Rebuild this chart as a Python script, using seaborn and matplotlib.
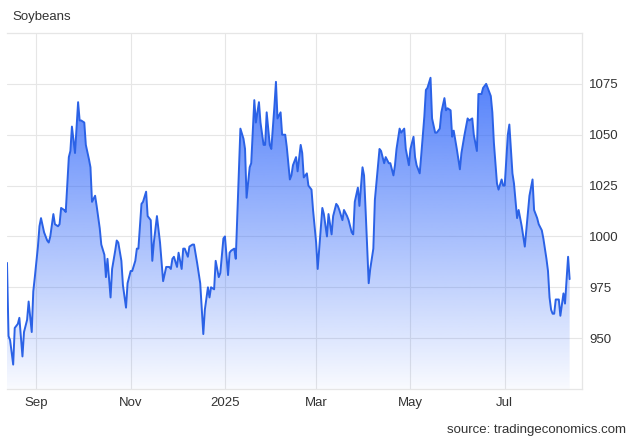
import numpy as np
import pandas as pd
import matplotlib
matplotlib.use("Agg")
import matplotlib.pyplot as plt
import seaborn as sns

# Soybeans futures, daily closes (USd/bu), month by month
aug24_days = [13, 14, 15, 17, 18, 20, 21, 23, 24, 26, 27, 29, 30, 31]
aug24_price = [987, 951, 949, 937, 955, 957, 960, 941, 953, 959, 968, 953, 973, 980]
sep24_days = [2, 3, 4, 6, 8, 9, 10, 12, 13, 15, 16, 17, 19, 20, 22, 23, 24, 26, 28, 29, 30]
sep24_price = [995, 1005, 1009, 1002, 998, 997, 1000, 1011, 1006, 1005, 1006, 1014, 1013, 1012,
               1039, 1042, 1054, 1041, 1066, 1057, 1057]
oct24_days = [2, 3, 5, 6, 7, 9, 10, 12, 13, 15, 16, 17, 19, 20, 22, 23, 24, 26, 27, 29, 30]
oct24_price = [1056, 1045, 1038, 1034, 1017, 1020, 1015, 1004, 996, 991, 980, 989, 970, 984,
               993, 998, 997, 988, 976, 965, 977]
nov24_days = [1, 2, 4, 5, 6, 8, 9, 11, 12, 14, 15, 16, 18, 20, 22, 24, 26, 27, 28, 29]
nov24_price = [983, 983, 988, 994, 994, 1016, 1017, 1022, 1010, 1008, 988, 997, 1010, 997,
               978, 985, 985, 984, 989, 990]
dec24_days = [1, 2, 4, 5, 6, 8, 9, 11, 12, 14, 15, 16, 18, 19, 21, 22, 23, 25, 26, 28, 29, 31]
dec24_price = [985, 992, 984, 994, 994, 990, 995, 996, 996, 987, 982, 977, 952, 964, 975,
               970, 975, 974, 988, 980, 982, 999]
jan25_days = [1, 3, 4, 5, 7, 8, 11, 13, 14, 15, 17, 18, 20, 21, 23, 24, 26, 27, 28, 30, 31]
jan25_price = [1000, 981, 992, 993, 994, 989, 1053, 1048, 1043, 1019, 1034, 1036, 1067, 1056,
               1066, 1056, 1045, 1045, 1061, 1045, 1043]
feb25_days = [2, 3, 4, 6, 7, 9, 10, 12, 13, 14, 16, 17, 19, 20, 21, 23, 24, 26, 27]
feb25_price = [1064, 1076, 1058, 1061, 1050, 1050, 1044, 1028, 1030, 1035, 1039, 1032, 1045,
               1041, 1029, 1031, 1025, 1023, 1013]
mar25_days = [1, 2, 5, 6, 8, 9, 11, 12, 14, 15, 16, 18, 19, 21, 22, 24, 25, 26, 28, 29, 31]
mar25_price = [997, 984, 1014, 1011, 1000, 1011, 1001, 1010, 1016, 1015, 1013, 1008, 1013,
               1010, 1008, 1002, 1001, 1017, 1024, 1015, 1034]
apr25_days = [1, 2, 4, 5, 7, 8, 11, 12, 14, 15, 17, 18, 20, 21, 22, 24, 25, 27, 28, 30]
apr25_price = [1030, 1013, 977, 984, 994, 1018, 1043, 1042, 1036, 1039, 1036, 1036, 1030,
               1035, 1043, 1053, 1051, 1053, 1043, 1035]
may25_days = [1, 3, 4, 5, 7, 8, 10, 11, 12, 14, 15, 17, 18, 20, 21, 23, 24, 25, 27, 28, 29, 31]
may25_price = [1043, 1049, 1039, 1035, 1031, 1040, 1059, 1072, 1073, 1078, 1058, 1051, 1051,
               1053, 1061, 1068, 1062, 1063, 1062, 1049, 1052, 1043]
jun25_days = [2, 3, 5, 7, 8, 10, 11, 13, 14, 16, 17, 19, 20, 22, 23, 24, 26, 27, 29, 30]
jun25_price = [1033, 1041, 1050, 1058, 1057, 1058, 1050, 1042, 1070, 1070, 1073, 1075, 1073,
               1069, 1061, 1046, 1026, 1023, 1028, 1025]
jul25_days = [1, 3, 4, 6, 7, 9, 10, 12, 13, 14, 16, 17, 19, 20, 22, 23, 25, 26, 28, 29, 30, 31]
jul25_price = [1025, 1050, 1055, 1031, 1026, 1009, 1013, 1005, 1000, 995, 1012, 1020, 1028,
               1013, 1009, 1006, 1003, 999, 989, 983, 970, 964]
aug25_days = [1, 2, 3, 5, 6, 8, 9, 11, 12]
aug25_price = [962, 962, 969, 969, 961, 972, 967, 990, 979]

months = [
    ("2024-08", aug24_days, aug24_price),
    ("2024-09", sep24_days, sep24_price),
    ("2024-10", oct24_days, oct24_price),
    ("2024-11", nov24_days, nov24_price),
    ("2024-12", dec24_days, dec24_price),
    ("2025-01", jan25_days, jan25_price),
    ("2025-02", feb25_days, feb25_price),
    ("2025-03", mar25_days, mar25_price),
    ("2025-04", apr25_days, apr25_price),
    ("2025-05", may25_days, may25_price),
    ("2025-06", jun25_days, jun25_price),
    ("2025-07", jul25_days, jul25_price),
    ("2025-08", aug25_days, aug25_price),
]

tick_dates = ["2024-09-01", "2024-11-01", "2025-01-01", "2025-03-01", "2025-05-01", "2025-07-01"]
tick_labels = ["Sep", "Nov", "2025", "Mar", "May", "Jul"]
y_ticks = [950, 975, 1000, 1025, 1050, 1075]

frames = []
for ym, days, prices in months:
    frames.append(pd.DataFrame({
        "date": pd.to_datetime([f"{ym}-{d:02d}" for d in days]),
        "price": prices,
    }))
df = pd.concat(frames, ignore_index=True)

sns.set_style("white")
plt.rcParams["font.family"] = ["Liberation Sans", "DejaVu Sans"]

LINE = "#2b62e6"
GRID = "#e6e6e6"
TEXT = "#333333"
y_min, y_max = 925, 1100
x_min, x_max = pd.Timestamp("2024-08-13"), pd.Timestamp("2025-08-20")

fig = plt.figure(figsize=(6.35, 4.40), dpi=100)
ax = fig.add_axes([7 / 635, 51 / 440, 575 / 635, 356 / 440])

# gradient area under the line
poly = ax.fill_between(df["date"], df["price"], y_min, facecolor="none", edgecolor="none")
grad = np.zeros((256, 1, 4))
grad[:, 0, 0] = 41 / 255
grad[:, 0, 1] = 98 / 255
grad[:, 0, 2] = 250 / 255
grad[:, 0, 3] = np.linspace(0.92, 0.03, 256)
import matplotlib.dates as mdates
img = ax.imshow(grad, aspect="auto", origin="upper",
                extent=[mdates.date2num(x_min), mdates.date2num(x_max), y_min, y_max],
                zorder=1)
img.set_clip_path(poly.get_paths()[0], transform=ax.transData)

sns.lineplot(data=df, x="date", y="price", ax=ax, color=LINE, linewidth=1.4, zorder=3)

ax.set_xlim(x_min, x_max)
ax.set_ylim(y_min, y_max)
ax.set_xticks(pd.to_datetime(tick_dates))
ax.set_xticklabels(tick_labels)
ax.set_yticks(y_ticks)
ax.yaxis.tick_right()
ax.grid(True, color=GRID, linewidth=0.8, zorder=0)
ax.set_axisbelow(True)
ax.tick_params(axis="both", length=0, labelsize=9.5, colors=TEXT)
ax.tick_params(axis="y", pad=5)
ax.tick_params(axis="x", pad=6)
ax.set_xlabel("")
ax.set_ylabel("")
for side in ["top", "right", "bottom"]:
    ax.spines[side].set_color(GRID)
    ax.spines[side].set_linewidth(0.9)
ax.spines["left"].set_visible(False)

fig.text(12 / 635, 1 - 17 / 440, "Soybeans", ha="left", va="center", fontsize=9.5, color=TEXT)
fig.text(626 / 635, 1 - 430 / 440, "source: tradingeconomics.com", ha="right", va="center",
         fontsize=9.5, color=TEXT)

fig.savefig("out.png", dpi=100)
